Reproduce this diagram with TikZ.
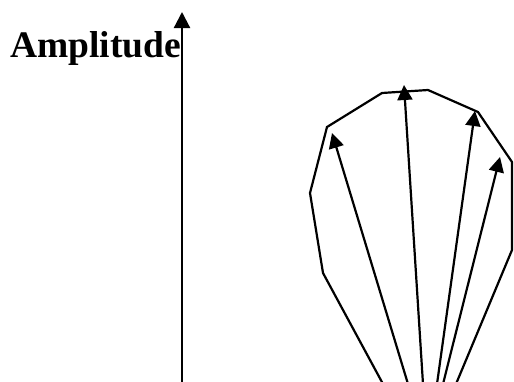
\documentclass[tikz,border=0pt]{standalone}
\usepackage{fontspec}
\setmainfont{Liberation Serif}
\usetikzlibrary{arrows.meta}
\begin{document}
\begin{tikzpicture}[x=1pt,y=-1pt,
  vec/.style={line width=2.2pt,-{Triangle[length=15pt,width=15pt]}},
  axisline/.style={line width=2.2pt,-{Triangle[length=16pt,width=16pt]}},
  outline/.style={line width=2.2pt,line join=miter}]
\useasboundingbox (0,0) rectangle (514,381);
\node[anchor=base west,inner sep=0pt,font=\fontsize{37.5}{40}\selectfont\bfseries] (lbl) at (10,57) {Amplitude};
\coordinate (a0) at (182,384);
\coordinate (a1) at (182,12);
\draw[axisline] (a0) -- (a1);
\draw[outline] (383,384) -- (323,273) -- (310,193) -- (327,127) -- (382,93) -- (428,90) -- (478,112) -- (512,162) -- (512,250) -- (456,384);
\coordinate (o1) at (408,384);
\coordinate (o2) at (423,384);
\coordinate (o3) at (437,384);
\coordinate (o4) at (443,384);
\coordinate (t1) at (332,133);
\coordinate (t2) at (404,85);
\coordinate (t3) at (475,111);
\coordinate (t4) at (500,157);
\draw[vec] (o1) -- (t1);
\draw[vec] (o2) -- (t2);
\draw[vec] (o3) -- (t3);
\draw[vec] (o4) -- (t4);
\end{tikzpicture}
\end{document}
